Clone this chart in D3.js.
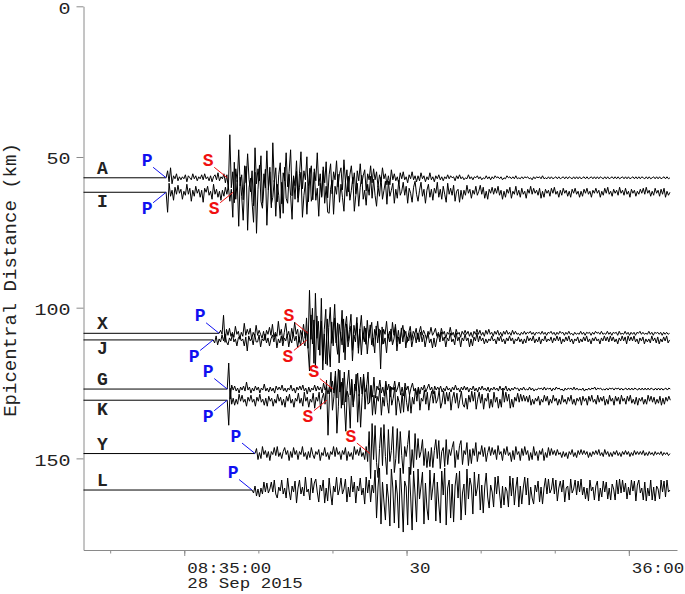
<!DOCTYPE html>
<html><head><meta charset="utf-8">
<script src="https://cdn.jsdelivr.net/npm/d3@7"></script>
<style>body{margin:0;background:#fff}</style>
</head><body>
<svg id="chart" width="685" height="594"></svg>
<script>
// ---------- data ----------
const stations  = ["A","I","X","J","G","K","Y","L"];
const distances = [56.9, 61.7, 108.5, 110.7, 127.0, 130.7, 148.4, 160.5]; // km
const pTimes    = [-2.45, -2.45, 4.7, 3.9, 5.8, 5.8, 9.55, 9.15];          // s after 08:35:00
const sTimes    = [5.8, 6.6, 16.7, 16.55, 20.05, 19.25, 25.05, null];
const recordStart = -13.6;   // s after 08:35:00
const recordEnd   = 66.5;
const sampleInterval = 0.2;  // s
const yTicks = [0, 50, 100, 150];
const yMax = 180.4;
const xTickStep = 10;        // s
const xMajorTicks = [0, 30, 60];
const xTickLabels = ["08:35:00", "30", "36:00"];
const dateLabel = "28 Sep 2015";
const axisTitle = "Epicentral Distance (km)";
const kmPerCount = 0.332;

const traceA = [
0,7,-4,10,-6,2,-1,4,-3,1,
-2,1,-1,3,-4,2,0,-2,4,-1,
2,-3,1,-1,3,-2,4,-1,1,-3,
2,-4,1,3,-2,5,-3,1,-1,4,
-5,3,-12,43,-10,6,-25,9,-4,28,
-8,3,-22,12,-5,24,-2,-14,7,-28,
30,-6,9,-3,22,-25,4,-10,27,-12,
6,-30,35,-4,10,-24,3,15,-26,5,
-3,25,-9,6,28,-18,2,-8,17,-20,
4,26,-11,7,-2,21,-24,3,12,-22,
9,-3,25,-8,4,-18,11,-5,16,-20,
3,14,-16,6,-2,17,-9,4,10,-12,
18,-4,8,-14,3,12,-6,5,-16,7,
-3,14,-6,2,8,-13,4,-2,12,-5,
9,-2,6,-9,3,-4,10,-1,4,-7,
2,-7,8,-2,4,-3,1,-6,5,-1,
6,-2,1,-5,3,-1,6,-2,2,-4,
2,-3,5,-1,2,-4,1,-2,5,-2,
1,-4,2,-1,3,-2,1,-3,1,-1,
3,-1,2,0,1,-3,2,-1,3,-1,
1,-2,0,-1,3,-1,1,-2,1,0,
2,-1,1,-2,0,-1,2,-1,1,-2,
1,-1,2,0,1,-1,1,-2,0,-1,
2,0,1,-1,1,-1,2,-1,0,-1,
1,-1,1,0,1,-1,0,-2,1,-1,
1,0,1,-1,2,-1,0,-1,1,-1,
1,-1,0,1,-1,1,-1,0,1,-1,
1,-1,1,0,-1,1,-1,1,-1,1,
-1,0,1,-1,1,-1,0,1,-1,1,
-1,1,-1,1,0,-1,1,-1,1,-1,
0,1,-1,1,-1,1,-1,0,1,-1,
1,-1,1,-1,0,1,-1,1,-1,1,
-1,1,0,-1,1,-1,1,-1,0,1,
-1,1,-1,1,-1,0,1,-1,1,-1,
0];

const traceI = [
0,-20,9,-4,2,-8,5,-2,7,-1,
3,-7,1,-3,8,-2,4,-9,2,-4,
6,-1,3,-5,2,-10,4,0,6,-3,
1,-7,8,-2,3,-5,1,-8,2,-4,
5,-2,6,-9,3,-25,30,-7,12,-34,
15,-4,-28,8,26,-38,5,14,-10,-30,
20,-41,3,27,-9,-16,6,23,-33,4,
25,-12,-5,12,-24,8,-3,-26,10,-21,
25,-6,-11,18,-3,-27,14,-7,21,-10,
5,20,-25,-3,10,-22,6,24,-9,-2,
20,-8,4,-24,9,-5,22,-11,6,-20,
-21,3,12,-22,6,-2,18,-10,8,-5,
-19,11,-4,16,-8,2,15,-19,-3,9,
-14,5,17,-7,2,-13,8,-3,16,-6,
13,-3,-14,6,-4,15,-7,2,11,-12,
11,-4,2,9,-11,3,-6,12,-3,1,
10,-3,6,-11,4,-1,-10,5,11,-2,
-9,2,10,-4,3,-11,2,8,-5,3,
-8,4,-1,10,-5,3,-7,6,-2,-10,
9,-2,4,-3,7,-9,1,3,-10,2,
-7,2,-3,7,-1,3,-6,2,-2,6,
-3,1,7,-2,5,-6,1,-7,3,-1,
5,-2,4,-1,6,-3,2,-7,1,-5,
3,-1,5,-6,1,-2,6,-3,2,-5,
4,-2,1,-6,3,-1,6,-2,4,-1,
2,-3,4,-6,1,-5,3,-1,2,-4,
4,-1,5,-2,1,-5,2,-3,4,-1,
2,-4,1,-5,3,-1,4,-2,1,-5,
1,-4,3,-1,4,-2,1,-5,2,-1,
4,-1,2,-5,1,-3,4,-1,5,-2,
1,-4,3,-1,2,-3,5,-1,2,-3,
4,-2,1,-5,3,-1,2,-4,1,-2,
3,-1,4,-2,5,-1,2,-4,1,-3,
4,-1,2,-4,3,-2,4,-5,1,-3,
0];

const traceX = [
0,3,-1,18,-9,4,-2,5,-3,1,
-4,7,-1,2,-6,1,-3,10,-2,4,
-1,5,-6,1,-3,8,-2,3,-1,-5,
2,-7,3,-1,6,-2,9,-4,1,-3,
12,-2,4,-8,1,10,-3,2,-7,5,
-3,11,-1,4,-9,3,-2,9,-5,2,
-15,43,-6,25,-30,40,-5,12,-22,35,
-27,4,24,-32,6,26,-10,3,29,-8,
-21,9,-3,23,-19,5,17,-8,4,19,
-17,8,-2,16,-20,3,18,-6,7,-11,
13,-5,2,11,-13,4,-2,12,-4,3,
-11,4,-1,12,-5,2,-8,11,-2,9,
-9,3,-10,1,8,-3,2,-9,1,7,
-7,2,-1,5,-6,1,7,-2,3,-1,
-6,2,-1,6,-2,1,5,-3,1,-4,
5,-1,2,-5,1,-1,6,-2,1,-4,
4,-1,1,-4,2,-1,3,-1,2,-3,
1,-4,2,-1,4,-1,3,-2,1,-3,
3,-1,4,-1,1,-3,2,-1,3,-2,
1,-3,2,-1,3,-1,1,-2,3,-1,
2,-1,0,-2,1,-1,2,-1,1,0,
2,-1,1,-2,1,0,1,-1,2,-1,
1,-2,1,0,2,-1,1,-2,1,-1,
2,0,1,-2,1,-1,2,-1,0,-2,
1,-1,0,-1,2,-1,1,-2,1,0,
1,-2,1,-1,2,0,1,-1,2,-1,
0,-1,2,-1,1,-2,1,0,1,-2,
2,-1,0,-1,2,-1,1,-2,1,-1,
1,-2,1,0,2,-1,1,-1,0,-1,
2,-1,1,-2,1,0,1,-1,1,-2,
1,-1,1,-1,0];

const traceJ = [
0,-3,4,-5,1,-2,5,-1,6,-2,
-5,2,-1,6,-2,1,-6,2,4,-1,
1,-6,3,-11,4,-1,2,-5,6,-2,
-2,5,-7,1,-1,6,-3,2,-6,1,
5,-2,6,-8,1,-3,4,-6,2,-1,
6,-7,2,-3,7,-1,4,-8,3,-6,
7,-2,-6,22,-8,-31,25,-4,20,-28,
24,-10,3,19,-30,6,-24,21,-5,-27,
18,-6,22,-3,17,-23,8,-5,21,-20,
16,-7,3,14,-21,5,-2,17,-8,11,
-15,6,-2,12,-14,3,15,-5,2,-13,
14,-3,11,-29,13,-4,2,-13,6,-2,
11,-5,1,13,-11,3,-4,12,-2,10,
-8,3,-1,8,-7,1,6,-3,7,-2,
8,-2,5,-7,1,7,-3,1,-8,2,
-7,1,6,-2,8,-1,3,-7,2,-1,
7,-2,1,-5,7,-1,3,-7,2,-1,
6,-1,2,-7,1,-6,3,-1,7,-2,
4,-1,2,-4,1,-3,1,-1,4,-1,
1,-4,3,-1,4,-2,1,-4,2,-1,
4,-1,2,-4,1,-1,3,-2,1,-4,
1,-3,4,-1,2,-1,4,-3,1,-2,
3,-4,1,-1,4,-2,1,-1,3,-3,
2,-1,4,-1,3,-4,1,-2,3,-1,
4,-2,1,-4,1,-1,3,-3,1,-2,
3,-1,4,-2,1,-4,2,-1,3,-1,
1,-4,2,-1,4,-1,3,-2,4,-1,
3,-2,1,-4,2,-1,4,-1,3,-4,
4,-1,3,-1,4,-2,1,-4,2,-1,
3,-4,1,-2,1,-3,4,-1,2,-3,
3,-4,1,-2,3,-1,4,-3,0];

const traceG = [
0,26,-10,4,-1,3,-2,1,-4,2,
-1,3,-2,7,-1,2,-4,1,-2,3,
-1,2,-4,1,-1,5,-2,1,-3,2,
-2,1,-4,3,-1,2,-1,4,-2,1,
-3,1,-1,4,-2,1,-4,2,-1,3,
-1,4,-2,1,-5,2,-3,1,-1,4,
-2,3,-1,2,-4,6,-1,2,-5,3,
-3,8,-4,18,-9,20,-3,7,-16,17,
-13,4,19,-6,10,-18,5,-2,16,-7,
12,-5,15,-3,2,17,-14,4,-8,12,
-9,3,-1,9,-4,2,-7,8,-1,5,
-8,2,-1,8,-3,1,7,-6,2,-7,
6,-1,3,-6,1,6,-2,1,-6,2,
-5,2,-1,4,-3,1,5,-1,2,-5,
3,-1,2,-1,3,-3,1,-2,3,-1,
1,-3,2,-1,4,-1,1,-3,2,-1,
3,-1,2,-3,1,-1,3,-2,1,-3,
2,-1,3,-1,1,-2,2,-3,1,-1,
2,-1,1,-2,3,-1,1,-1,3,-2,
1,-2,1,-1,2,0,1,-2,1,-1,
2,-1,0,-1,2,-1,1,-2,0,-1,
1,0,1,-1,2,-1,1,0,1,-2,
1,-1,2,0,1,-1,0,-2,1,-1,
1,0,1,-1,2,-1,1,-1,0,-1,
1,-2,0,-1,1,-1,1,0,2,-1,
1,0,1,-1,0,-1,1,-1,1,0,
1,-1,1,0,1,-1,1,-1,0,1,
-1,1,-1,1,-1,1,0,-1,1,-1,
1,-1,1,-1,1,-1,1,0,-1,1,
-1,1,-1,1,-1,0,1,-1,1,0];

const traceK = [
0,-25,12,-4,2,-5,1,-4,6,-1,
5,-2,1,-6,3,-1,5,-2,1,-6,
3,-1,6,-2,1,-5,2,-6,4,-1,
2,-6,1,-3,6,-1,3,-5,1,-7,
4,-1,6,-3,1,-7,2,-1,7,-3,
2,-6,8,-1,3,-7,1,-2,7,-8,
3,-1,8,-9,2,7,-4,20,-35,6,
28,-10,4,24,-33,-6,30,-8,22,-3,
-31,9,3,-28,20,-5,7,26,-22,6,
-27,3,23,-9,15,-4,-2,14,-15,5,
-14,4,-1,12,-15,3,-6,15,-2,-13,
14,-5,2,13,-15,4,-2,-13,7,-12,
13,-2,-11,5,-13,3,-4,11,-1,13,
-10,2,-1,10,-4,8,-10,2,9,-3,
9,-3,1,10,-8,-2,9,-4,8,-1,
8,-10,2,8,-3,7,-8,1,9,-4,
-7,2,-9,5,-2,9,-1,8,-9,1,
8,-3,6,-9,2,-1,7,-8,1,-7,
8,-2,3,-8,1,-7,12,-2,8,-1,
6,-8,1,-7,3,-1,7,-2,6,-1,
5,-1,4,-2,5,-5,1,-4,2,-1,
4,-5,1,-2,5,-1,4,-5,1,-3,
5,-1,2,-5,1,-4,5,-2,1,-4,
3,-1,5,-4,1,-5,2,-1,3,-5,
4,-1,2,-5,4,-1,5,-2,1,-4,
5,-2,3,-1,4,-5,1,-4,5,-1,
2,-5,4,-1,3,-4,5,-1,2,-4,
4,-1,5,-3,1,-4,3,-5,2,-1,
3,-4,1,-4,5,-1,4,-2,3,-4,
1,-3,4,-5,2,-4,3,-1,4,0];

const traceY = [
0,5,-6,1,-5,7,-1,3,-4,2,
-7,2,-1,6,-2,7,-3,1,-5,2,
6,-1,3,-7,2,-4,6,-1,3,-6,
2,-1,7,-3,1,-6,2,-4,6,-1,
-5,2,-1,4,-7,1,-2,6,-3,1,
-6,2,-1,7,-3,6,-1,2,-6,3,
-1,6,-7,2,-3,1,-6,7,-1,4,
-2,6,-3,1,-6,7,-8,22,-25,30,
-6,28,-9,-24,5,26,-12,29,-3,-21,
24,-8,3,27,-19,-5,25,-10,22,-2,
-20,7,-3,9,23,-21,4,-14,20,-6,
15,-4,2,14,-12,5,-14,2,-13,6,
-14,3,14,-5,13,-15,2,6,-13,14,
-11,4,-2,6,12,-14,3,-6,8,13,
-11,3,-1,11,-12,4,-10,5,-2,11,
-8,2,-1,8,-3,6,-8,1,7,-2,
6,-1,4,-6,8,-1,2,-7,5,-1,
7,-2,1,-8,3,-6,7,-1,2,-7,
5,-2,7,-1,3,-7,1,-6,7,-2,
2,-7,3,-1,5,-7,1,-4,6,-2,
5,-1,3,-2,4,-1,1,-4,2,-3,
1,-5,2,-1,4,-3,1,-4,3,-1,
4,-1,3,-1,2,-4,1,-3,2,-1,
3,-1,4,-2,1,-3,4,-1,2,-3,
1,-3,2,-1,3,-2,1,-3,2,-1,
3,-1,2,-3,1,-2,3,-1,2,-1,
2,-1,3,-2,1,-2,2,-1,1,-2,
2,-1,1,-1,2,-2,1,-1,1,-2,
0];

const traceL = [
0,-3,4,-6,1,-7,2,-4,8,-2,
7,-3,1,8,-2,10,-4,-8,3,-1,
10,-4,2,-8,12,-1,-10,4,-2,9,
-13,2,10,-4,3,-6,13,-2,1,-10,
12,-3,7,11,-2,-12,5,-1,10,-13,
2,-11,12,-3,-15,4,-2,13,-5,1,
12,-4,1,11,-12,3,-7,14,-2,8,
-13,4,-1,12,-5,2,-14,13,-3,10,
-12,5,-3,20,-28,3,22,-34,8,-12,
-30,6,-8,-36,21,2,-33,10,-4,-38,
22,-5,-42,9,3,-35,23,-6,-40,19,
-4,-32,21,-9,4,18,-34,7,-18,-30,
20,-10,3,17,-31,8,-14,-33,19,-5,
22,-35,2,10,-28,6,-32,4,17,-8,
19,-30,-3,6,-25,21,-9,12,4,-24,
18,-6,2,16,-20,5,-23,3,17,-7,
-18,5,-2,-17,13,-4,14,-3,-18,4,
-15,3,-1,-17,14,-6,12,-15,2,13,
-17,4,-14,2,13,-5,12,-15,3,-8,
-14,5,-2,9,-12,3,-14,2,12,-4,
11,-3,1,12,-4,10,-11,2,9,-2,
10,-12,2,4,-10,11,-3,1,10,-5,
9,-2,11,-5,3,-9,2,-11,10,-1,
3,-10,4,9,-11,2,-7,9,-2,8,
-9,2,-10,6,1,-10,10,-4,11,-3,
10,-2,7,-9,3,-5,10,-1,9,-11,
5,10,-3,2,-10,8,-11,2,-6,10,
-10,3,-11,4,1,-9,10,-2,9,-7,
10,-2,0];

const traces = [traceA, traceI, traceX, traceJ, traceG, traceK, traceY, traceL];

// ---------- drawing ----------
const svg = d3.select("#chart");
const FONT = "'Liberation Mono','DejaVu Sans Mono',monospace";
const origin = Date.UTC(2015, 8, 28, 8, 35, 0);
const toDate = s => new Date(origin + s * 1000);

const x = d3.scaleUtc().domain([toDate(recordStart), toDate(recordEnd)]).range([83.5, 677]);
const y = d3.scaleLinear().domain([0, yMax]).range([6.3, 550]);

// left axis
const gy = svg.append("g").attr("transform", "translate(83.5,0)")
  .call(d3.axisLeft(y).tickValues(yTicks).tickSize(7).tickSizeOuter(0).tickPadding(6));
gy.select(".domain").attr("stroke", "#8a8a8a");
gy.selectAll(".tick line").attr("stroke", "#8a8a8a");
gy.selectAll(".tick text").attr("font-family", FONT).attr("font-size", 17)
  .attr("transform", "scale(1.18,1)").attr("x", -13 / 1.18).attr("dy", "0.4em")
  .attr("fill", "#222");

// bottom axis: minor ticks
const minorVals = d3.range(Math.ceil(recordStart / xTickStep) * xTickStep, recordEnd, xTickStep).map(toDate);
const gxMinor = svg.append("g").attr("transform", "translate(0,550)")
  .call(d3.axisBottom(x).tickValues(minorVals).tickSize(3.5).tickSizeOuter(0).tickFormat(""));
gxMinor.select(".domain").attr("stroke", "#8a8a8a");
gxMinor.selectAll(".tick line").attr("stroke", "#8a8a8a");

const gxMajor = svg.append("g").attr("transform", "translate(0,550)")
  .call(d3.axisBottom(x).tickValues(xMajorTicks.map(toDate)).tickSize(6).tickSizeOuter(0)
     .tickFormat((d, i) => xTickLabels[i]));
gxMajor.select(".domain").remove();
gxMajor.selectAll(".tick line").attr("stroke", "#8a8a8a");
gxMajor.selectAll(".tick text")
  .attr("font-family", FONT).attr("font-size", 14).attr("fill", "#222")
  .attr("transform", "scale(1.25,1)")
  .attr("text-anchor", "start").attr("x", 2).attr("y", 23.5).attr("dy", 0);
// date line as its own text so the two label lines do not share one box
gxMajor.select(".tick").filter((d, i) => i === 0)
  .append("text").attr("font-family", FONT).attr("font-size", 14).attr("fill", "#222")
  .attr("transform", "scale(1.25,1)").attr("text-anchor", "start")
  .attr("x", 2).attr("y", 38).text(dateLabel);

// axis title
svg.append("text")
  .attr("transform", `translate(11,${280}) rotate(-90)`)
  .attr("text-anchor", "middle").attr("dominant-baseline", "central")
  .attr("font-family", FONT).attr("font-size", 19).attr("fill", "#222")
  .text(axisTitle);

// traces
const line = d3.line().x(d => x(toDate(d[0]))).y(d => y(d[1]));
stations.forEach((st, i) => {
  const dist = distances[i];
  const pts = [[recordStart, dist]];
  traces[i].forEach((a, k) => pts.push([pTimes[i] + k * sampleInterval, dist - a * kmPerCount]));
  svg.append("path").attr("d", line(pts))
    .attr("fill", "none").attr("stroke", "#000").attr("stroke-width", 1)
    .attr("stroke-linejoin", "round");
});

// station labels + phase markers
stations.forEach((st, i) => {
  const dist = distances[i];
  const below = i > 0 && dist - distances[i - 1] < 6;
  const yb = y(dist);
  svg.append("text").attr("x", 102.5).attr("y", below ? yb + 14.5 : yb - 4)
    .attr("text-anchor", "middle").attr("font-family", FONT).attr("font-weight", "bold")
    .attr("font-size", 18).attr("fill", "#222").text(st);

  const phases = [["P", pTimes[i], "#1010f0"], ["S", sTimes[i], "#f01010"]];
  phases.forEach(([ph, t, col]) => {
    if (t == null) return;
    const xa = x(toDate(t));
    const sgn = below ? 1 : -1;
    svg.append("line").attr("x1", xa).attr("y1", yb)
      .attr("x2", xa - 13).attr("y2", yb + sgn * 10.5)
      .attr("stroke", col).attr("stroke-width", 1);
    svg.append("text").attr("x", xa - 19).attr("y", yb + sgn * 17)
      .attr("text-anchor", "middle").attr("dominant-baseline", "central")
      .attr("font-family", FONT).attr("font-weight", "bold").attr("font-size", 18)
      .attr("fill", col).text(ph);
  });
});
</script>
</body></html>
